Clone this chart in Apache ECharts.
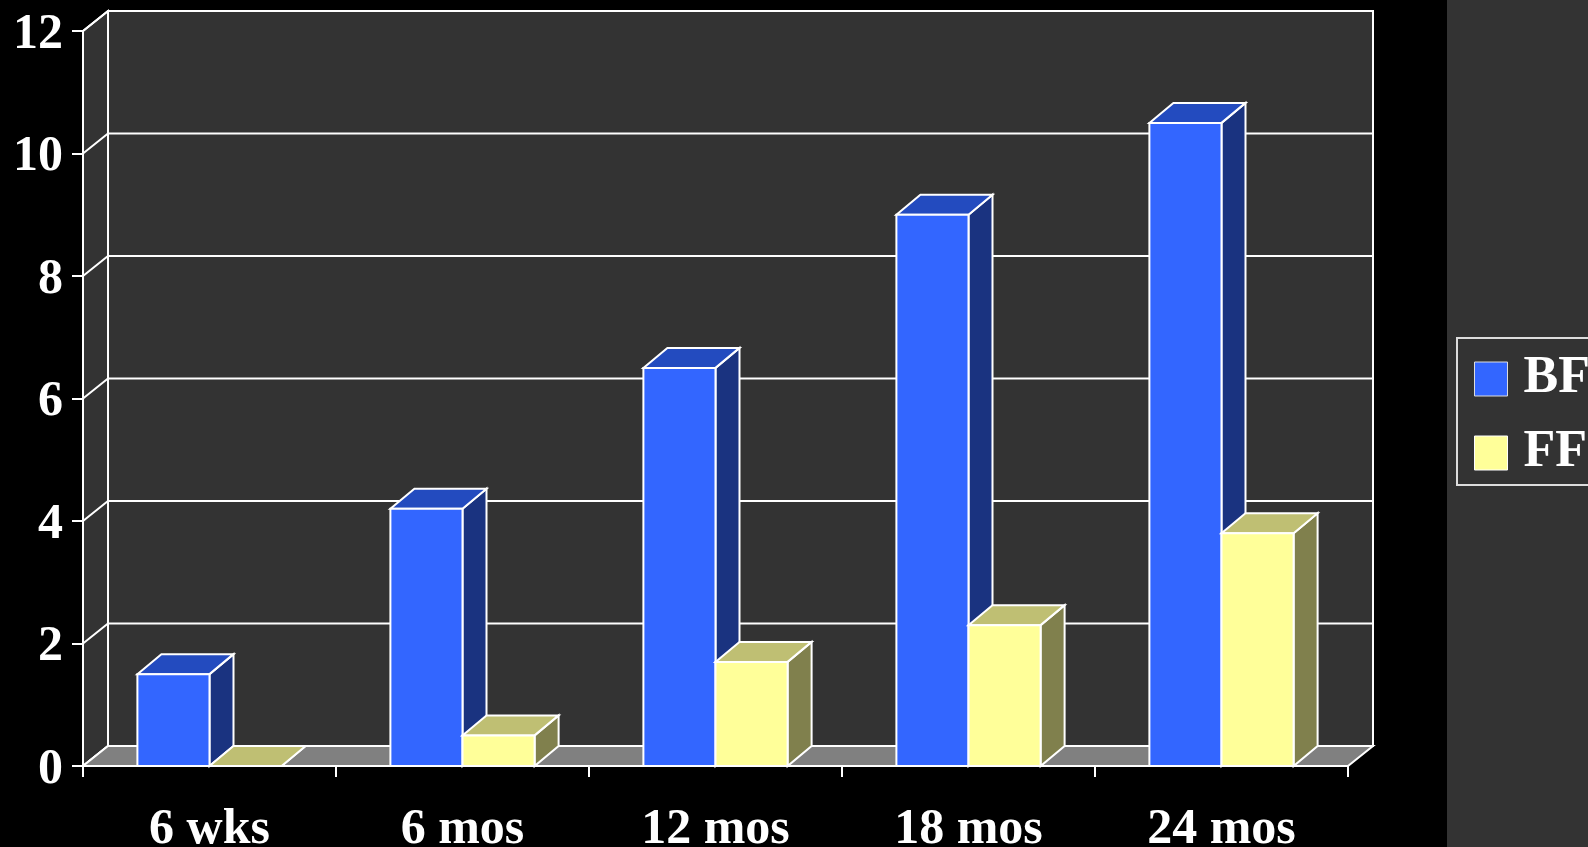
<!DOCTYPE html>
<html>
<head>
<meta charset="utf-8">
<script src="https://cdn.jsdelivr.net/npm/echarts@6/dist/echarts.min.js"></script>
<style>
  html, body { margin: 0; padding: 0; background: #000; }
  #chart { width: 1588px; height: 847px; }
</style>
</head>
<body>
<div id="chart"></div>
<script>
// Age points and mean values for the two feeding groups
const CATEGORIES = ['6 wks', '6 mos', '12 mos', '18 mos', '24 mos'];
const BF_VALUES = [1.5, 4.2, 6.5, 9.0, 10.5];
const FF_VALUES = [0, 0.5, 1.7, 2.3, 3.8];
const Y_TICKS = [0, 2, 4, 6, 8, 10, 12];

const FONT = "'Liberation Serif', 'Times New Roman', serif";

// Pseudo-3D depth offsets (pixels)
const WALL_DX = 25, WALL_DY = -20;
const BAR_DX = 24, BAR_DY = -20;
const BAR_RATIO = 0.285;

const BF_COLORS = { front: '#3366FF', top: '#234BBF', side: '#1A3380' };
const FF_COLORS = { front: '#FFFF99', top: '#BFBF73', side: '#80804D' };
const EDGE = { stroke: '#FFFFFF', lineWidth: 2 };

const chart = echarts.init(document.getElementById('chart'), null, { renderer: 'canvas' });

// Back wall, side wall, floor and gridlines drawn in the depth plane
function renderWalls(params, api) {
  if (params.dataIndex !== 0) return;
  const cs = params.coordSys;
  const L = cs.x, R = cs.x + cs.width;
  const T = api.coord([0, Y_TICKS[Y_TICKS.length - 1]])[1];
  const B = api.coord([0, Y_TICKS[0]])[1];
  const children = [];
  children.push({
    type: 'polygon',
    shape: { points: [[L, T], [L + WALL_DX, T + WALL_DY], [L + WALL_DX, B + WALL_DY], [L, B]] },
    style: Object.assign({ fill: '#333333' }, EDGE)
  });
  children.push({
    type: 'rect',
    shape: { x: L + WALL_DX, y: T + WALL_DY, width: R - L, height: B - T },
    style: Object.assign({ fill: '#333333' }, EDGE)
  });
  Y_TICKS.forEach(function (t) {
    const y = api.coord([0, t])[1];
    children.push({
      type: 'polyline',
      shape: { points: [[L, y], [L + WALL_DX, y + WALL_DY], [R + WALL_DX, y + WALL_DY]] },
      style: Object.assign({ fill: null }, EDGE)
    });
  });
  children.push({
    type: 'polygon',
    shape: { points: [[L, B], [R, B], [R + WALL_DX, B + WALL_DY], [L + WALL_DX, B + WALL_DY]] },
    style: Object.assign({ fill: '#808080' }, EDGE)
  });
  return { type: 'group', children: children };
}

// Box-shaped column: side face, top face, then front face
function barRenderer(slot, colors) {
  return function (params, api) {
    const cat = api.value(0);
    const v = api.value(1);
    const base = api.coord([cat, 0]);
    const top = api.coord([cat, v]);
    const band = api.size([1, 0])[0];
    const w = band * BAR_RATIO;
    const x0 = base[0] - w + slot * w;
    const x1 = x0 + w;
    const ty = top[1], by = base[1];
    return {
      type: 'group',
      children: [
        {
          type: 'polygon',
          shape: { points: [[x1, ty], [x1 + BAR_DX, ty + BAR_DY], [x1 + BAR_DX, by + BAR_DY], [x1, by]] },
          style: Object.assign({ fill: colors.side }, EDGE)
        },
        {
          type: 'polygon',
          shape: { points: [[x0, ty], [x1, ty], [x1 + BAR_DX, ty + BAR_DY], [x0 + BAR_DX, ty + BAR_DY]] },
          style: Object.assign({ fill: colors.top }, EDGE)
        },
        {
          type: 'rect',
          shape: { x: x0, y: ty, width: w, height: by - ty },
          style: Object.assign({ fill: colors.front }, EDGE)
        }
      ]
    };
  };
}

const option = {
  backgroundColor: '#000000',
  animation: false,
  graphic: [
    {
      type: 'rect',
      left: 1447, top: 0, z: -10,
      shape: { width: 141, height: 847 },
      style: { fill: '#333333' }
    }
  ],
  legend: {
    orient: 'vertical',
    left: 1457,
    top: 338,
    padding: [15, 80, 6, 17],
    itemWidth: 33,
    itemHeight: 34,
    itemGap: 22,
    borderColor: '#DDDDDD',
    borderWidth: 2,
    icon: 'rect',
    data: [
      { name: 'BF', itemStyle: { color: BF_COLORS.front, borderColor: '#DDDDDD', borderWidth: 1 } },
      { name: 'FF', itemStyle: { color: FF_COLORS.front, borderColor: '#FFFFFF', borderWidth: 1 } }
    ],
    textStyle: {
      color: '#FFFFFF', fontFamily: FONT, fontWeight: 'bold', fontSize: 52,
      lineHeight: 34, padding: [0, 0, 0, 11]
    }
  },
  grid: {
    left: 83, right: 240, top: 31, bottom: 81,
    containLabel: false,
    outerBoundsMode: 'none'
  },
  xAxis: {
    type: 'category',
    data: CATEGORIES,
    z: 10,
    axisLine: { show: true, lineStyle: { color: '#FFFFFF', width: 2 } },
    axisTick: { show: true, length: 11, interval: 0, lineStyle: { color: '#FFFFFF', width: 2 } },
    axisLabel: {
      interval: 0, margin: 39, color: '#FFFFFF',
      fontFamily: FONT, fontWeight: 'bold', fontSize: 50
    },
    splitLine: { show: false }
  },
  yAxis: {
    type: 'value',
    min: Y_TICKS[0],
    max: Y_TICKS[Y_TICKS.length - 1],
    interval: 2,
    z: 10,
    axisLine: { show: true, lineStyle: { color: '#FFFFFF', width: 2 } },
    axisTick: { show: true, length: 11, lineStyle: { color: '#FFFFFF', width: 2 } },
    axisLabel: {
      margin: 20, color: '#FFFFFF',
      verticalAlign: 'top', lineHeight: 8,
      fontFamily: FONT, fontWeight: 'bold', fontSize: 50
    },
    splitLine: { show: false }
  },
  series: [
    {
      name: 'walls',
      type: 'custom',
      z: 1,
      silent: true,
      renderItem: renderWalls,
      data: [[0, 0]]
    },
    {
      name: 'BF',
      type: 'custom',
      z: 2,
      itemStyle: { color: BF_COLORS.front },
      renderItem: barRenderer(0, BF_COLORS),
      data: BF_VALUES.map(function (v, i) { return [i, v]; })
    },
    {
      name: 'FF',
      type: 'custom',
      z: 3,
      itemStyle: { color: FF_COLORS.front },
      renderItem: barRenderer(1, FF_COLORS),
      data: FF_VALUES.map(function (v, i) { return [i, v]; })
    }
  ]
};

chart.setOption(option);
</script>
</body>
</html>
